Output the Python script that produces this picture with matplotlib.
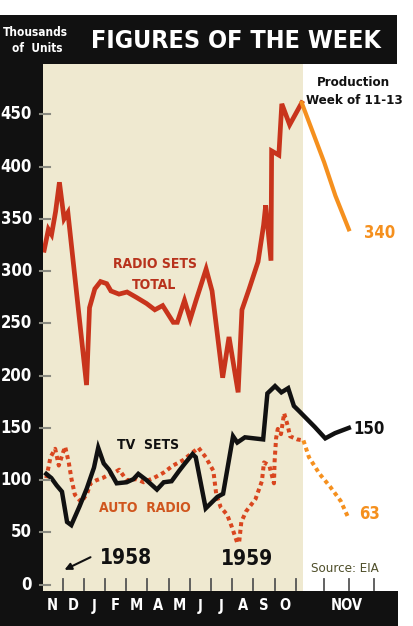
import matplotlib
matplotlib.use('Agg')
import matplotlib.pyplot as plt
from matplotlib.patches import Rectangle
from matplotlib.transforms import blended_transform_factory as blend

# x = months after 1 Dec 1958 (Nov 1959 drawn on an expanded weekly scale)
# y = thousands of units produced per week
radio_x = [-0.87, -0.67, -0.52, -0.33, -0.15, 0.07, 0.25, 1.13, 1.27, 1.52, 1.79, 2.08,
           2.28, 2.66, 3.04, 3.47, 3.96, 4.35, 4.72, 5.22, 5.41, 5.75, 6.02, 6.31,
           6.77, 7.05, 7.55, 7.85, 8.28, 8.46, 8.80, 9.22, 9.48, 9.58, 9.83, 9.86,
           10.20, 10.34, 10.71, 11.28]
radio_y = [320, 340, 335, 357, 385, 350, 356, 191, 265, 283, 290, 288,
           281, 278, 280, 275, 269, 263, 267, 251, 251, 272, 254, 273,
           302, 281, 198, 237, 184, 263, 283, 309, 344, 363, 310, 415,
           411, 460, 440, 461]
radio_now_x = [11.28, 12.34, 12.87, 13.5]
radio_now_y = [461, 404, 372, 340]

tv_x = [-0.77, -0.53, -0.28, -0.03, 0.21, 0.41, 0.80, 1.14, 1.48, 1.68, 1.94, 2.19,
        2.55, 3.02, 3.34, 3.57, 3.96, 4.45, 4.77, 5.14, 5.50, 5.73, 6.13, 6.28,
        6.75, 7.30, 7.57, 8.04, 8.24, 8.60, 9.46, 9.66, 10.02, 10.32, 10.64, 10.91,
        11.16, 11.89, 12.39, 12.85, 13.5]
tv_y = [106, 102, 95, 89, 60, 57, 75, 92, 112, 131, 116, 110,
        97, 98, 101, 106, 100, 91, 98, 99, 109, 115, 125, 122,
        73, 84, 87, 142, 136, 141, 139, 183, 190, 184, 188, 171,
        166, 151, 140, 145, 150]

auto_x = [-0.77, -0.57, -0.35, -0.18, 0.03, 0.12, 0.29, 0.42, 0.58, 0.88, 1.15, 1.32,
          1.60, 1.88, 2.16, 2.43, 2.67, 3.02, 3.49, 3.82, 4.29, 4.75, 5.21, 5.67,
          6.41, 6.75, 7.11, 7.25, 7.46, 7.76, 7.97, 8.24, 8.33, 8.43, 8.65, 9.10,
          9.40, 9.50, 9.75, 9.97, 10.00, 10.07, 10.15, 10.30, 10.45, 10.62, 10.73, 11.07,
          11.36]
auto_y = [102, 122, 130, 114, 127, 132, 117, 101, 86, 79, 87, 97,
          100, 102, 105, 107, 110, 100, 101, 98, 102, 107, 114, 119,
          131, 122, 109, 86, 74, 67, 56, 40, 41, 60, 70, 82,
          99, 117, 114, 97, 118, 140, 149, 144, 164, 152, 142, 139,
          138]
auto_now_x = [11.36, 11.62, 12.12, 12.61, 13.12, 13.5]
auto_now_y = [138, 122, 106, 94, 80, 63]

month_labels = ['N', 'D', 'J', 'F', 'M', 'A', 'M', 'J', 'J', 'A', 'S', 'O']
month_ticks = list(range(0, 12)) + [12.31, 13.5, 14.68]
y_ticks = list(range(0, 451, 50))

# colours
BLACK = '#111111'
BEIGE = '#efe9d0'
RED = '#c8341c'
ORANGE = '#f5901e'
DOTRED = '#d9461f'
COND = dict(family='DejaVu Sans', stretch='condensed', weight='bold')

W, H = 414, 626
X0, MW = 62.6, 21.2      # pixel of 1 Dec tick, pixels per month
Y0, PY = 584.7, 1.0453   # pixel of zero, pixels per thousand

fig = plt.figure(figsize=(W / 100, H / 100), dpi=100, facecolor='white')
bg = fig.add_axes([0, 0, 1, 1], zorder=0)
ax = fig.add_axes([0, 0, 1, 1], zorder=1)
fr = fig.add_axes([0, 0, 1, 1], zorder=2)
for a in (bg, fr):
    a.set_xlim(0, W)
    a.set_ylim(H, 0)
    a.axis('off')
ax.set_xlim(-X0 / MW, (W - X0) / MW)
ax.set_ylim((Y0 - H) / PY, Y0 / PY)
ax.axis('off')

# beige panel for the twelve months, white for latest weeks
bg.add_patch(Rectangle((43, 64), 260, 527, color=BEIGE, lw=0))

# lines
ax.plot(radio_x, radio_y, color=RED, lw=3.4, solid_joinstyle='miter')
ax.plot(radio_now_x, radio_now_y, color=ORANGE, lw=3.0)
ax.plot(auto_x, auto_y, color=DOTRED, lw=2.9, linestyle=(0, (1.0, 0.9)))
ax.plot(auto_now_x, auto_now_y, color=ORANGE, lw=2.9, linestyle=(0, (1.0, 0.9)))
ax.plot(tv_x, tv_y, color=BLACK, lw=3.2, solid_joinstyle='miter')

# black frame
fr.add_patch(Rectangle((0, 15), 397, 49, color=BLACK, lw=0))
fr.add_patch(Rectangle((0, 15), 43, 576, color=BLACK, lw=0))
fr.add_patch(Rectangle((0, 591), 398, 35, color=BLACK, lw=0))

fr.text(35, 32, 'Thousands', color='white', fontsize=8.5, ha='center', va='center', **COND)
fr.text(37, 48, 'of  Units', color='white', fontsize=8.5, ha='center', va='center', **COND)
fr.text(236, 41, 'FIGURES OF THE WEEK', color='white', fontsize=18,
        ha='center', va='center', **COND)

# y axis
ty = blend(fr.transData, ax.transData)
for v in y_ticks:
    fr.text(32, v, str(v), transform=ty, color='white', fontsize=12, ha='right',
            va='center', **COND)
    fr.plot([40, 50], [v, v], transform=ty, color='#8a8a80', lw=1.5)

# x axis
tx = blend(ax.transData, fr.transData)
for m in month_ticks:
    fr.plot([m, m], [579, 590], transform=tx, color='#555555', lw=1.3)
for i, lab in enumerate(month_labels):
    fr.text(i - 0.5, 606, lab, transform=tx, color='white', fontsize=10.5,
            ha='center', va='center', **COND)
fr.text(13.4, 606, 'NOV', transform=tx, color='white', fontsize=10.5,
        ha='center', va='center', **COND)

# annotations
fr.text(155, 264, 'RADIO SETS', color='#b8321c', fontsize=10, ha='center', va='center', **COND)
fr.text(154, 285, 'TOTAL', color='#b8321c', fontsize=10, ha='center', va='center', **COND)
fr.text(148, 445, 'TV  SETS', color=BLACK, fontsize=10, ha='center', va='center', **COND)
fr.text(145, 508, 'AUTO  RADIO', color='#d0561e', fontsize=10, ha='center', va='center', **COND)
fr.text(126, 558, '1958', color=BLACK, fontsize=15, ha='center', va='center', **COND)
fr.text(247, 559, '1959', color=BLACK, fontsize=15, ha='center', va='center', **COND)
fr.annotate('', xy=(62, 571), xytext=(93, 556),
            arrowprops=dict(arrowstyle='-|>', color=BLACK, lw=1.5, mutation_scale=10))
fr.text(345, 569, 'Source: EIA', color='#4f4f2a', fontsize=9.5, family='DejaVu Sans',
        stretch='condensed', ha='center', va='center')
fr.text(353, 82, 'Production', color=BLACK, fontsize=9.5, ha='center', va='center', **COND)
fr.text(354, 101, 'Week of 11-13', color=BLACK, fontsize=9.5, ha='center', va='center', **COND)
fr.text(364, 233, '340', color=ORANGE, fontsize=12, ha='left', va='center', **COND)
fr.text(353, 429, '150', color=BLACK, fontsize=12, ha='left', va='center', **COND)
fr.text(359, 514, '63', color=ORANGE, fontsize=12, ha='left', va='center', **COND)

fig.savefig('out.png', dpi=100, facecolor='white')
